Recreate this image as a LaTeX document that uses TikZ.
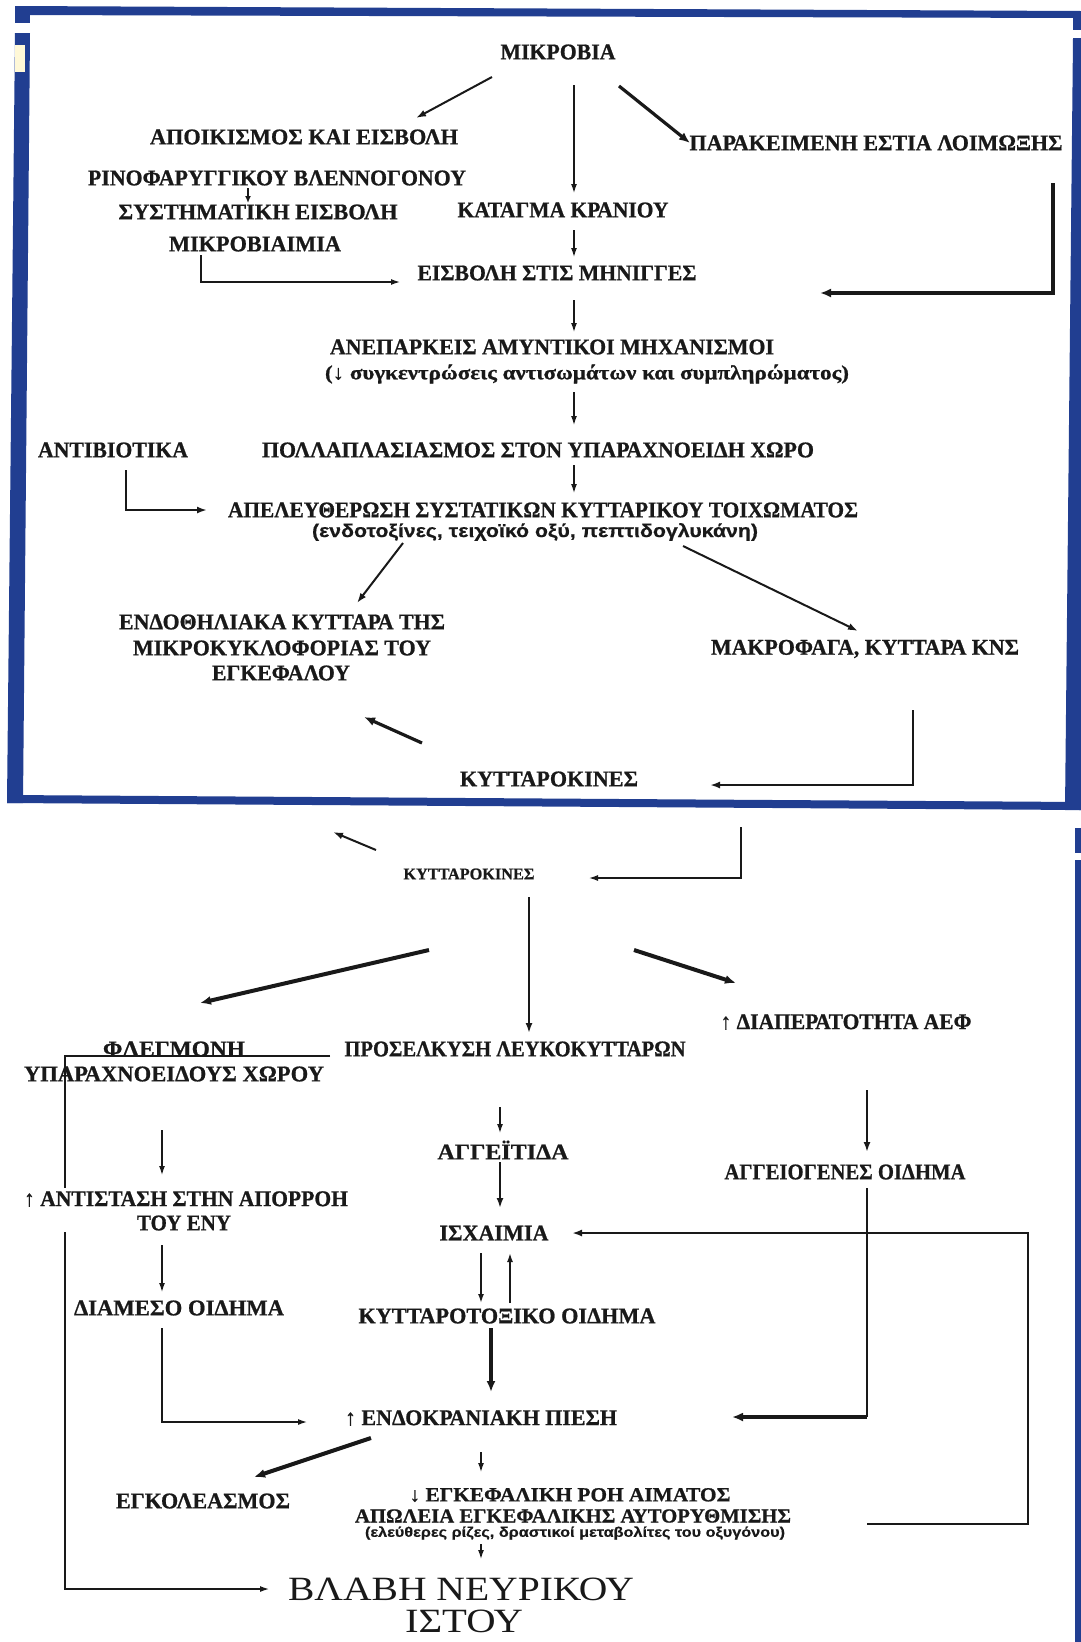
\documentclass[tikz,border=0pt]{standalone}
\usepackage{fontspec}
\usepackage{graphicx}
\setmainfont{Liberation Serif}[BoldFeatures={FakeBold=0.8}]
\newfontfamily\sansfnt{Liberation Sans}[BoldFeatures={FakeBold=0.5}]
\usetikzlibrary{arrows.meta}
\definecolor{frameblue}{RGB}{33,62,145}
\definecolor{ink}{RGB}{25,25,25}
\definecolor{paleyel}{RGB}{255,248,215}
\newsavebox\fitbox
\newcommand\fitw[2]{\sbox\fitbox{#2}\pgfmathsetmacro\fitr{#1/\the\wd\fitbox}\scalebox{\fitr}[1]{\usebox\fitbox}}
\begin{document}
\begin{tikzpicture}[x=1pt,y=-1pt,
  tx/.style={inner sep=0pt,text=ink,font=\bfseries\fontsize{22.5}{24}\selectfont},
  txs/.style={tx,font=\bfseries\fontsize{16.5}{18}\selectfont},
  txm/.style={tx,font=\bfseries\fontsize{20}{22}\selectfont},
  big/.style={inner sep=0pt,text=ink,font=\fontsize{34}{36}\selectfont},
  paren/.style={inner sep=0pt,text=ink,font=\sansfnt\bfseries\fontsize{18.5}{20}\selectfont},
  parens/.style={inner sep=0pt,text=ink,font=\sansfnt\bfseries\fontsize{14}{15}\selectfont},
  athin/.style={draw=ink,line width=1.3pt,-{Latex[length=9pt,width=6pt]}},
  amed/.style={draw=ink,line width=2pt,-{Latex[length=10pt,width=7pt]}},
  athick/.style={draw=ink,line width=3.2pt,-{Latex[length=11pt,width=9pt]}},
  lthin/.style={draw=ink,line width=1.3pt}]
\useasboundingbox (0,0) rectangle (1081,1642);
% ---- frame ----
\fill[frameblue] (15,6) -- (1081,11) -- (1081,18) -- (15,15) -- cycle;
\fill[frameblue] (15,6) rectangle (30,23);
\fill[frameblue] (15,33) -- (30,33) -- (23,803) -- (7,803) -- cycle;
\fill[paleyel] (15,45) rectangle (25,72);
\fill[frameblue] (7,795) -- (1081,802) -- (1081,810) -- (7,803) -- cycle;
\fill[frameblue] (1073,18) rectangle (1081,30);
\fill[frameblue] (1073,38) -- (1081,38) -- (1081,810) -- (1065,810) -- cycle;
\fill[frameblue] (1075,828) rectangle (1081,853);
\fill[frameblue] (1075,860) rectangle (1081,1642);
% ---- top nodes ----
\node[tx] (mik) at (558,52) {\fitw{115}{ΜΙΚΡΟΒΙΑ}};
\node[tx] (apo) at (304,137) {\fitw{308}{ΑΠΟΙΚΙΣΜΟΣ ΚΑΙ ΕΙΣΒΟΛΗ}};
\node[tx] (par) at (876,143) {\fitw{373}{ΠΑΡΑΚΕΙΜΕΝΗ ΕΣΤΙΑ ΛΟΙΜΩΞΗΣ}};
\node[tx] (rin) at (277,178) {\fitw{378}{ΡΙΝΟΦΑΡΥΓΓΙΚΟΥ ΒΛΕΝΝΟΓΟΝΟΥ}};
\node[tx] (sys) at (258,212) {\fitw{279}{ΣΥΣΤΗΜΑΤΙΚΗ ΕΙΣΒΟΛΗ}};
\node[tx] (kat) at (563,210) {\fitw{211}{ΚΑΤΑΓΜΑ ΚΡΑΝΙΟΥ}};
\node[tx] (mba) at (255,244) {\fitw{172}{ΜΙΚΡΟΒΙΑΙΜΙΑ}};
\node[tx] (eis) at (557,273) {\fitw{279}{ΕΙΣΒΟΛΗ ΣΤΙΣ ΜΗΝΙΓΓΕΣ}};
\node[tx] (ane) at (552,347) {\fitw{444}{ΑΝΕΠΑΡΚΕΙΣ ΑΜΥΝΤΙΚΟΙ ΜΗΧΑΝΙΣΜΟΙ}};
\node[txm] (pa1) at (587,374) {\fitw{524}{(↓ συγκεντρώσεις αντισωμάτων και συμπληρώματος)}};
\node[tx] (ant) at (113,450) {\fitw{150}{ΑΝΤΙΒΙΟΤΙΚΑ}};
\node[tx] (pol) at (538,450) {\fitw{552}{ΠΟΛΛΑΠΛΑΣΙΑΣΜΟΣ ΣΤΟΝ ΥΠΑΡΑΧΝΟΕΙΔΗ ΧΩΡΟ}};
\node[tx] (ape) at (543,510) {\fitw{630}{ΑΠΕΛΕΥΘΕΡΩΣΗ ΣΥΣΤΑΤΙΚΩΝ ΚΥΤΤΑΡΙΚΟΥ ΤΟΙΧΩΜΑΤΟΣ}};
\node[paren] (pa2) at (535,532) {\fitw{446}{(ενδοτοξίνες, τειχοϊκό οξύ, πεπτιδογλυκάνη)}};
\node[tx] (en1) at (282,622) {\fitw{326}{ΕΝΔΟΘΗΛΙΑΚΑ ΚΥΤΤΑΡΑ ΤΗΣ}};
\node[tx] (en2) at (282,648) {\fitw{298}{ΜΙΚΡΟΚΥΚΛΟΦΟΡΙΑΣ ΤΟΥ}};
\node[tx] (en3) at (281,673) {\fitw{138}{ΕΓΚΕΦΑΛΟΥ}};
\node[tx] (mak) at (865,649) {\fitw{308}{ΜΑΚΡΟΦΑΓΑ, ΚΥΤΤΑΡΑ ΚΝΣ}};
\node[tx] (kyt) at (549,779) {\fitw{178}{ΚΥΤΤΑΡΟΚΙΝΕΣ}};
% ---- lower nodes ----
\node[txs] (ky2) at (469,874) {\fitw{131}{ΚΥΤΤΑΡΟΚΙΝΕΣ}};
\node[tx] (dia) at (846,1022) {\fitw{251}{↑ ΔΙΑΠΕΡΑΤΟΤΗΤΑ ΑΕΦ}};
\node[tx] (fle) at (174,1049) {\fitw{142}{ΦΛΕΓΜΟΝΗ}};
\node[tx] (pro) at (515,1049) {\fitw{341}{ΠΡΟΣΕΛΚΥΣΗ ΛΕΥΚΟΚΥΤΤΑΡΩΝ}};
\node[tx] (ypa) at (174,1074) {\fitw{300}{ΥΠΑΡΑΧΝΟΕΙΔΟΥΣ ΧΩΡΟΥ}};
\node[tx] (agt) at (503,1150) {\fitw{131}{ΑΓΓΕΪΤΙΔΑ}};
\node[tx] (agg) at (845,1172) {\fitw{241}{ΑΓΓΕΙΟΓΕΝΕΣ ΟΙΔΗΜΑ}};
\node[tx] (ast) at (186,1199) {\fitw{324}{↑ ΑΝΤΙΣΤΑΣΗ ΣΤΗΝ ΑΠΟΡΡΟΗ}};
\node[tx] (eny) at (184,1223) {\fitw{94}{ΤΟΥ ΕΝΥ}};
\node[tx] (isx) at (494,1233) {\fitw{109}{ΙΣΧΑΙΜΙΑ}};
\node[tx] (dms) at (179,1308) {\fitw{210}{ΔΙΑΜΕΣΟ ΟΙΔΗΜΑ}};
\node[tx] (kto) at (507,1316) {\fitw{297}{ΚΥΤΤΑΡΟΤΟΞΙΚΟ ΟΙΔΗΜΑ}};
\node[tx] (endk) at (481,1418) {\fitw{272}{↑ ΕΝΔΟΚΡΑΝΙΑΚΗ ΠΙΕΣΗ}};
\node[tx] (egl) at (203,1501) {\fitw{174}{ΕΓΚΟΛΕΑΣΜΟΣ}};
\node[txm] (egf) at (570,1495) {\fitw{321}{↓ ΕΓΚΕΦΑΛΙΚΗ ΡΟΗ ΑΙΜΑΤΟΣ}};
\node[txm] (apl) at (573,1516) {\fitw{436}{ΑΠΩΛΕΙΑ ΕΓΚΕΦΑΛΙΚΗΣ ΑΥΤΟΡΥΘΜΙΣΗΣ}};
\node[parens] (pa3) at (575,1533) {\fitw{420}{(ελεύθερες ρίζες, δραστικοί μεταβολίτες του οξυγόνου)}};
\node[big] (vla) at (461,1589) {\fitw{346}{ΒΛΑΒΗ ΝΕΥΡΙΚΟΥ}};
\node[big] (ist) at (464,1621) {\fitw{118}{ΙΣΤΟΥ}};
% free ends
\coordinate (upL) at (333,832);
\coordinate (upR) at (741,827);
\coordinate (fleR) at (330,1056);
% ---- top connectors ----
\draw[amed] ([shift={(-66,25)}]mik.center) -- ([shift={(112,-19)}]apo.center);
\draw[athin] ([shift={(16,33)}]mik.center) -- ([shift={(11,-17)}]kat.center);
\draw[athick] ([shift={(61,34)}]mik.center) -- ([shift={(-186,0)}]par.center);
\draw[athin,-{Latex[length=7pt,width=6pt]}] ([shift={(-29,10)}]rin.center) -- ([shift={(-10,-9)}]sys.center);
\draw[athin] ([shift={(11,20)}]kat.center) -- ([shift={(17,-16)}]eis.center);
\draw[athin] ([shift={(-54,11)}]mba.center) |- ([shift={(-157,9)}]eis.center);
\draw[athick] ([shift={(177,40)}]par.center) |- ([shift={(263,20)}]eis.center);
\draw[athin] ([shift={(17,27)}]eis.center) -- ([shift={(22,-15)}]ane.center);
\draw[athin] ([shift={(-13,18)}]pa1.center) -- ([shift={(36,-25)}]pol.center);
\draw[athin] ([shift={(36,15)}]pol.center) -- ([shift={(31,-17)}]ape.center);
\draw[amed] ([shift={(13,20)}]ant.center) |- ([shift={(-336,0)}]ape.center);
\draw[amed] ([shift={(-132,11)}]pa2.center) -- ([shift={(75,-19)}]en1.center);
\draw[amed] ([shift={(148,14)}]pa2.center) -- ([shift={(-7,-18)}]mak.center);
\draw[athick] ([shift={(-127,-36)}]kyt.center) -- ([shift={(83,44)}]en3.center);
\draw[amed] ([shift={(48,61)}]mak.center) |- ([shift={(161,6)}]kyt.center);
% ---- lower connectors ----
\draw[amed] ([shift={(-93,-24)}]ky2.center) -- (upL);
\draw[athin] (upR) |- ([shift={(120,4)}]ky2.center);
\draw[amed] ([shift={(60,23)}]ky2.center) -- ([shift={(14,-16)}]pro.center);
\draw[athick,line width=4pt] ([shift={(-40,76)}]ky2.center) -- ([shift={(26,-46)}]fle.center);
\draw[athick,line width=4pt] ([shift={(165,76)}]ky2.center) -- ([shift={(-110,-39)}]dia.center);
\draw[athin] (fleR) -- ([shift={(-109,7)}]fle.center) -- (65,1188) (65,1232) -- (65,1589) -- ([shift={(-192,0)}]vla.center);
\draw[athin] ([shift={(-12,56)}]ypa.center) -- ([shift={(-24,-24)}]ast.center);
\draw[athin] ([shift={(-15,58)}]pro.center) -- ([shift={(-3,-17)}]agt.center);
\draw[amed,line width=2.5pt] ([shift={(-3,12)}]agt.center) -- ([shift={(6,-25)}]isx.center);
\draw[amed] ([shift={(21,68)}]dia.center) -- ([shift={(22,-20)}]agg.center);
\draw[athin] ([shift={(-22,22)}]eny.center) -- ([shift={(-17,-16)}]dms.center);
\draw[athin,line width=1.6pt] ([shift={(-13,20)}]isx.center) -- ([shift={(-26,-13)}]kto.center);
\draw[athin,line width=1.6pt] ([shift={(3,-13)}]kto.center) -- ([shift={(16,20)}]isx.center);
\draw[lthin] ([shift={(22,16)}]agg.center) -- ([shift={(22,245)}]agg.center);
\draw[athick] ([shift={(22,245)}]agg.center) -- ([shift={(251,-1)}]endk.center);
\draw[athin] ([shift={(-17,20)}]dms.center) |- ([shift={(-174,4)}]endk.center);
\draw[athick] ([shift={(-16,12)}]kto.center) -- ([shift={(10,-26)}]endk.center);
\draw[athick,line width=4pt] ([shift={(-110,20)}]endk.center) -- ([shift={(51,-24)}]egl.center);
\draw[athin] ([shift={(0,34)}]endk.center) -- ([shift={(-89,-23)}]egf.center);
\draw[amed] ([shift={(294,8)}]apl.center) -| ([shift={(534,0)}]isx.center) -- ([shift={(78,0)}]isx.center);
\draw[athin] ([shift={(-94,11)}]pa3.center) -- ([shift={(20,-30)}]vla.center);
\end{tikzpicture}
\end{document}
